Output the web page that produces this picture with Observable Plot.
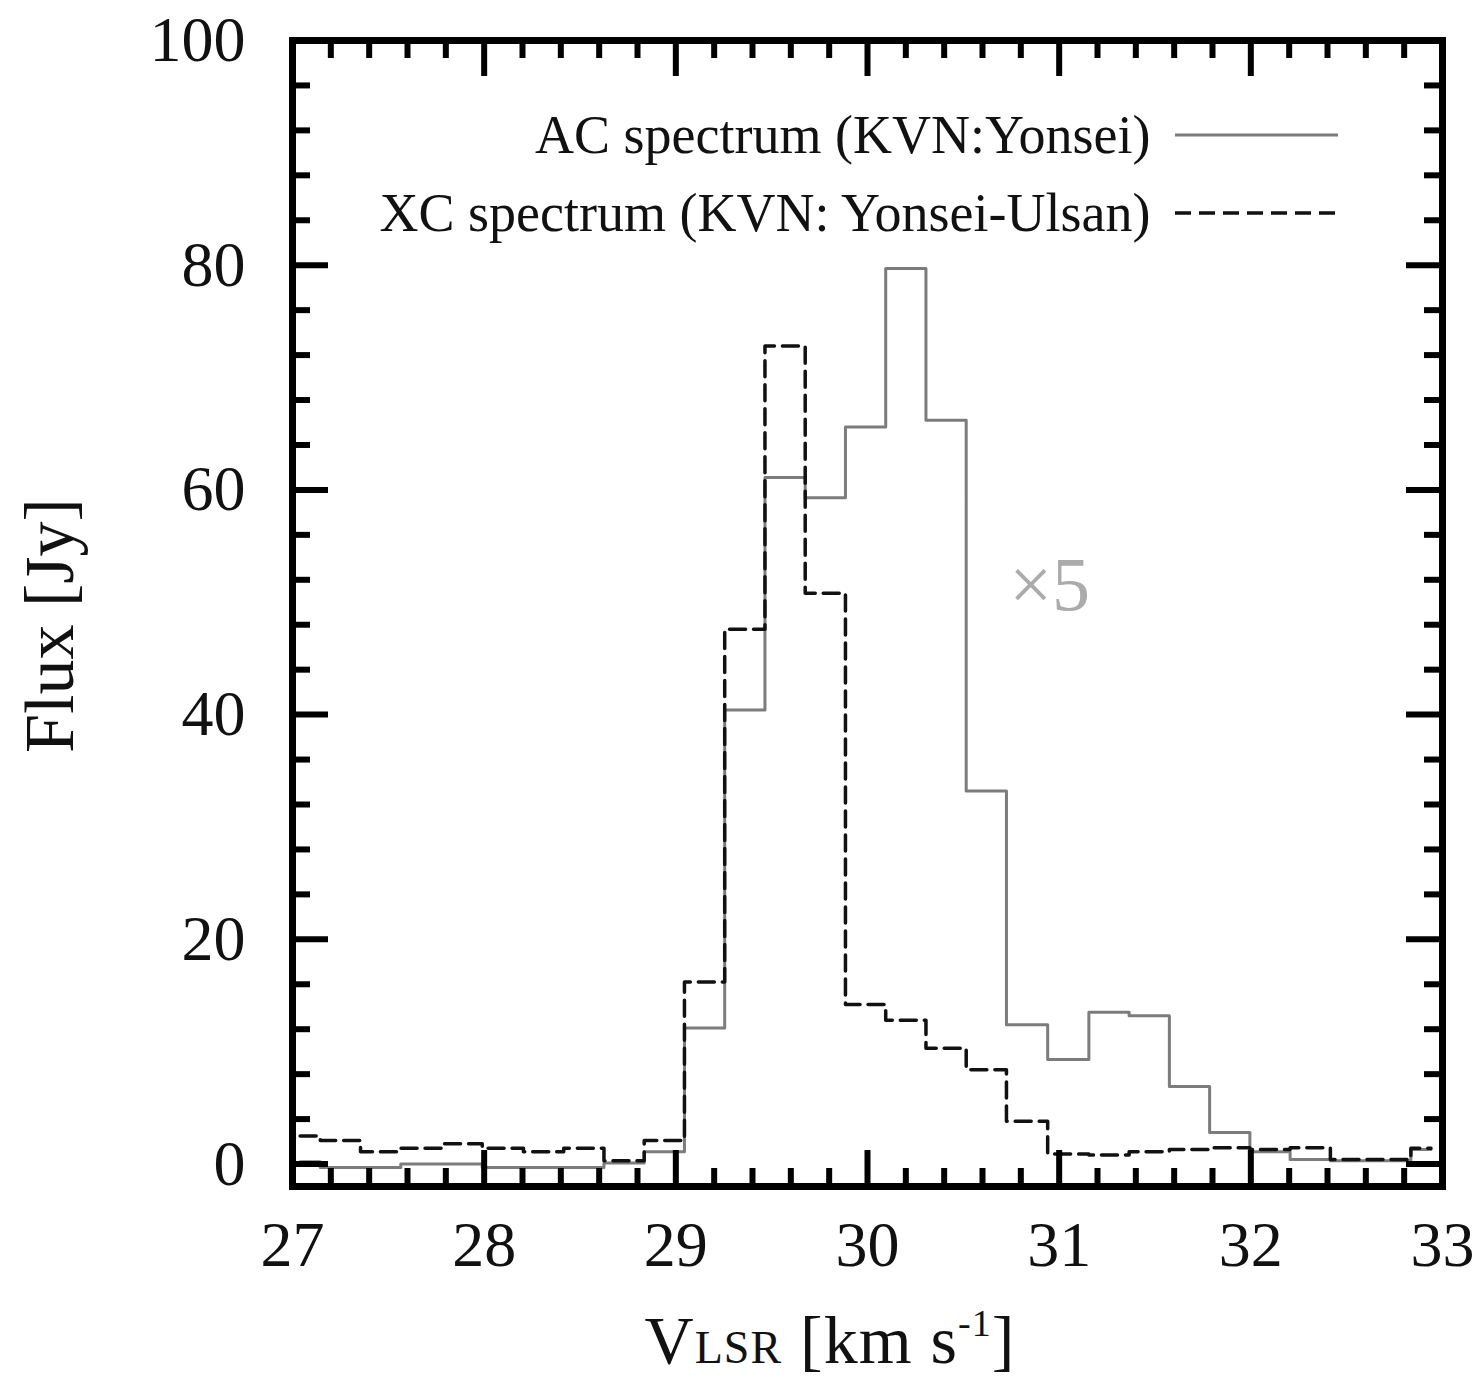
<!DOCTYPE html>
<html>
<head>
<meta charset="utf-8">
<script src="https://cdn.jsdelivr.net/npm/d3@7"></script>
<script src="https://cdn.jsdelivr.net/npm/@observablehq/plot@0.6"></script>
<style>
  html, body { margin: 0; padding: 0; background: #fff; }
  #wrap { position: relative; width: 1481px; height: 1384px; overflow: hidden; }
  #xlabel {
    position: absolute; left: 830px; top: 1306px; transform: translateX(-50%);
    font-family: "Liberation Serif", "DejaVu Serif", serif; font-size: 68px; line-height: 1;
    color: #111; white-space: nowrap; letter-spacing: 1px;
  }
  #xlabel .sub { font-size: 46px; }
  #xlabel sup { font-size: 38px; vertical-align: 0.7em; line-height: 0; }
</style>
</head>
<body>
<div id="wrap">
  <div id="chart"></div>
  <div id="xlabel">V<span class="sub">LSR</span> [km s<sup>-1</sup>]</div>
</div>
<script>
// ---- Data ----
const velocity = [27.04, 27.25, 27.46, 27.67, 27.88, 28.10, 28.31, 28.52, 28.73, 28.94,
                  29.15, 29.36, 29.57, 29.78, 29.99, 30.20, 30.41, 30.62, 30.83, 31.05,
                  31.26, 31.47, 31.68, 31.89, 32.10, 32.31, 32.52, 32.73, 32.94];
// AC spectrum (KVN:Yonsei), shown x5
const acFlux = [0.2, -0.3, -0.3, 0.0, 0.0, -0.3, -0.3, -0.3, 0.1, 1.1,
                12.1, 40.4, 61.1, 59.3, 65.6, 79.7, 66.2, 33.2, 12.4, 9.3,
                13.5, 13.2, 6.9, 2.8, 1.1, 0.4, 0.3, 0.3, 1.3];
// XC spectrum (KVN: Yonsei-Ulsan)
const xcFlux = [2.5, 2.1, 1.1, 1.4, 1.8, 1.4, 1.1, 1.4, 0.3, 2.1,
                16.2, 47.6, 72.8, 50.8, 14.2, 12.8, 10.3, 8.4, 3.8, 0.9,
                0.8, 1.1, 1.3, 1.45, 1.3, 1.45, 0.4, 0.4, 1.4];

const xTickLabels = [27, 28, 29, 30, 31, 32, 33];
const yTickLabels = [0, 20, 40, 60, 80, 100];
const legendLabels = ["AC spectrum (KVN:Yonsei)", "XC spectrum (KVN: Yonsei-Ulsan)"];
const scaleNote = "×5";

// ---- Layout ----
const W = 1481, H = 1290;
const mL = 292, mR = 39, mT = 40, mB = 104;
const innerW = W - mL - mR, innerH = H - mT - mB;
const majorLen = 36, minorLen = 18;
const serif = "Liberation Serif, DejaVu Serif, serif";

const xMinor = d3.range(27.2, 33, 0.2).map(d => +d.toFixed(1)).filter(d => Math.abs(d - Math.round(d)) > 1e-6);
const yMinor = d3.range(4, 100, 4).filter(d => d % 20 !== 0);

const ac = velocity.map((v, i) => ({v, f: acFlux[i]}));
const xc = velocity.map((v, i) => ({v, f: xcFlux[i]}));

const plot = Plot.plot({
  width: W, height: H,
  marginLeft: mL, marginRight: mR, marginTop: mT, marginBottom: mB,
  style: {background: "#fff", fontFamily: serif, color: "#111", overflow: "visible"},
  x: {domain: [27, 33]},
  y: {domain: [-2, 100]},
  marks: [
    Plot.line(ac, {x: "v", y: "f", curve: "step", stroke: "#7c7c7c", strokeWidth: 3}),
    Plot.line(xc, {x: "v", y: "f", curve: "step", stroke: "#111", strokeWidth: 3.5, strokeDasharray: "16,8"}),
    // inward ticks on all four sides
    Plot.tickX(xTickLabels, {x: d => d, insetTop: innerH - majorLen, stroke: "#000", strokeWidth: 6}),
    Plot.tickX(xTickLabels, {x: d => d, insetBottom: innerH - majorLen, stroke: "#000", strokeWidth: 6}),
    Plot.tickX(xMinor, {x: d => d, insetTop: innerH - minorLen, stroke: "#000", strokeWidth: 6}),
    Plot.tickX(xMinor, {x: d => d, insetBottom: innerH - minorLen, stroke: "#000", strokeWidth: 6}),
    Plot.tickY(yTickLabels, {y: d => d, insetRight: innerW - majorLen, stroke: "#000", strokeWidth: 6}),
    Plot.tickY(yTickLabels, {y: d => d, insetLeft: innerW - majorLen, stroke: "#000", strokeWidth: 6}),
    Plot.tickY(yMinor, {y: d => d, insetRight: innerW - minorLen, stroke: "#000", strokeWidth: 6}),
    Plot.tickY(yMinor, {y: d => d, insetLeft: innerW - minorLen, stroke: "#000", strokeWidth: 6}),
    Plot.frame({stroke: "#000", strokeWidth: 7}),
    Plot.axisX(xTickLabels, {tickSize: 0, tickPadding: 34, fontSize: 64, fontFamily: serif, fill: "#111", label: null, tickFormat: d => String(d)}),
    Plot.axisY(yTickLabels, {tickSize: 0, tickPadding: 47, fontSize: 64, fontFamily: serif, fill: "#111", label: null, tickFormat: d => String(d)}),
    Plot.text(["Flux [Jy]"], {frameAnchor: "left", textAnchor: "middle", lineAnchor: "middle", rotate: -90, dx: -242, dy: 12, fontSize: 70, fontFamily: serif, fill: "#111"}),
    Plot.text([legendLabels[0]], {frameAnchor: "top-right", textAnchor: "end", lineAnchor: "middle", dx: -292, dy: 95, fontSize: 54, fontFamily: serif, fill: "#111"}),
    Plot.text([legendLabels[1]], {frameAnchor: "top-right", textAnchor: "end", lineAnchor: "middle", dx: -292, dy: 173, fontSize: 54, fontFamily: serif, fill: "#111"}),
    Plot.text([scaleNote], {x: () => 30.95, y: () => 51.5, fontSize: 76, fontFamily: serif, fill: "#ababab"})
  ]
});

// legend line samples
const svg = d3.select(plot);
const lx1 = W - mR - 267, lx2 = W - mR - 104;
svg.append("line").attr("x1", lx1).attr("x2", lx2).attr("y1", mT + 95).attr("y2", mT + 95)
  .attr("stroke", "#7c7c7c").attr("stroke-width", 3);
svg.append("line").attr("x1", lx1).attr("x2", lx2).attr("y1", mT + 173).attr("y2", mT + 173)
  .attr("stroke", "#111").attr("stroke-width", 3.5).attr("stroke-dasharray", "16,8");

document.getElementById("chart").append(plot);
</script>
</body>
</html>
